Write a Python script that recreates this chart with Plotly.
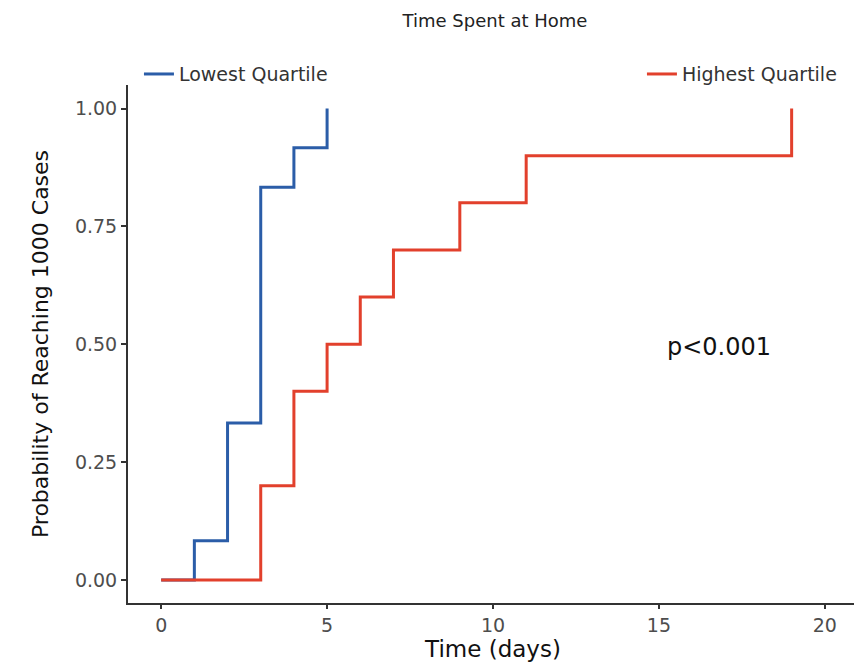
import plotly.graph_objects as go

# Kaplan-Meier style cumulative probability (step data)
lowest_days = [0, 1, 2, 3, 4, 5]
lowest_prob = [0.0, 0.083, 0.333, 0.833, 0.917, 1.0]

highest_days = [0, 3, 4, 5, 6, 7, 9, 11, 19]
highest_prob = [0.0, 0.2, 0.4, 0.5, 0.6, 0.7, 0.8, 0.9, 1.0]

x_ticks = [0, 5, 10, 15, 20]
y_ticks = [0, 0.25, 0.5, 0.75, 1.0]
y_tick_labels = ["0.00", "0.25", "0.50", "0.75", "1.00"]

BLUE = "#2b5da8"
RED = "#e2402c"
FONT = "DejaVu Sans, Liberation Sans, Arial, sans-serif"

fig = go.Figure()
fig.add_trace(go.Scatter(
    x=lowest_days, y=lowest_prob, mode="lines", line_shape="hv",
    line=dict(color=BLUE, width=3), name="Lowest Quartile", legend="legend"))
fig.add_trace(go.Scatter(
    x=highest_days, y=highest_prob, mode="lines", line_shape="hv",
    line=dict(color=RED, width=3), name="Highest Quartile", legend="legend2"))

fig.add_annotation(x=16.8, y=0.495, text="p<0.001", showarrow=False,
                   font=dict(family=FONT, size=24, color="#111111"))

fig.update_layout(
    width=862, height=665,
    paper_bgcolor="white", plot_bgcolor="white",
    showlegend=True,
    margin=dict(l=120, r=12, t=77, b=70, autoexpand=False),
    font=dict(family=FONT, color="#333333"),
    title=dict(text="Time Spent at Home", x=0.565, xref="container", xanchor="center",
               y=0.981, yref="container", yanchor="middle",
               font=dict(family=FONT, size=18, color="#222222")),
    legend=dict(orientation="h", x=0.015, xanchor="left", y=1.021, yanchor="middle",
                bgcolor="rgba(0,0,0,0)", font=dict(family=FONT, size=19, color="#333333")),
    legend2=dict(orientation="h", x=0.978, xanchor="right", y=1.021, yanchor="middle",
                 bgcolor="rgba(0,0,0,0)", font=dict(family=FONT, size=19, color="#333333")),
    xaxis=dict(range=[-1, 21], tickvals=x_ticks, showgrid=False, zeroline=False,
               automargin=False,
               showline=True, linecolor="#333333", linewidth=2,
               ticks="outside", ticklen=4, tickwidth=1.5, tickcolor="#333333",
               tickfont=dict(family=FONT, size=19, color="#4d4d4d"),
               title=dict(text="Time (days)", font=dict(family=FONT, size=23, color="#111111"),
                          standoff=0)),
    yaxis=dict(range=[-0.049, 1.05], tickvals=y_ticks, ticktext=y_tick_labels,
               showgrid=False, zeroline=False, automargin=False,
               showline=True, linecolor="#333333", linewidth=2,
               ticks="outside", ticklen=5, tickwidth=1.5, tickcolor="#333333",
               tickfont=dict(family=FONT, size=19, color="#4d4d4d"),
               title=dict(text="Probability of Reaching 1000 Cases",
                          font=dict(family=FONT, size=22, color="#111111"), standoff=20)),
)

fig.write_html("out.html")
